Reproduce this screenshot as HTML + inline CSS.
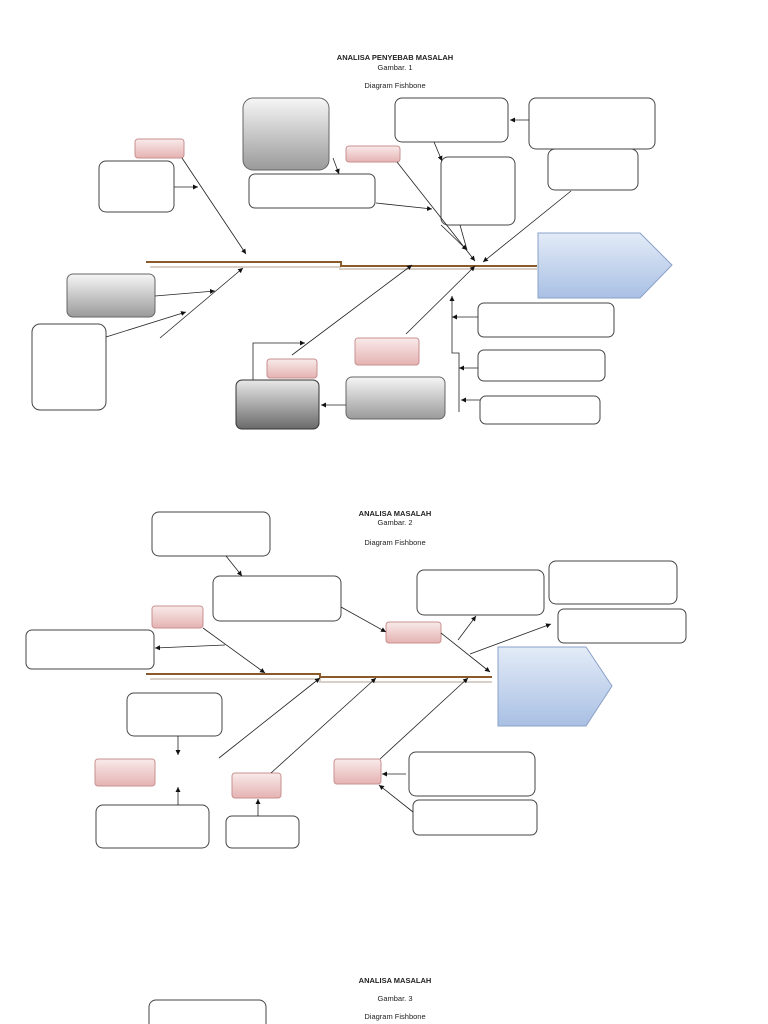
<!DOCTYPE html>
<html><head><meta charset="utf-8"><style>
html,body{margin:0;padding:0;background:#fff;width:768px;height:1024px;overflow:hidden}
svg{display:block}
text{font-family:"Liberation Sans",sans-serif;font-size:7.5px;fill:#222;text-anchor:middle}
</style></head><body>
<svg width="768" height="1024" viewBox="0 0 768 1024" xmlns="http://www.w3.org/2000/svg">
<defs>
<linearGradient id="g1" x1="0" y1="0" x2="0" y2="1"><stop offset="0" stop-color="#f6f6f6"/><stop offset="1" stop-color="#9a9a9a"/></linearGradient>
<linearGradient id="g2" x1="0" y1="0" x2="0" y2="1"><stop offset="0" stop-color="#e8e8e8"/><stop offset="1" stop-color="#6a6a6a"/></linearGradient>
<linearGradient id="pk" x1="0" y1="0" x2="0" y2="1"><stop offset="0" stop-color="#f9eaea"/><stop offset="1" stop-color="#e5b2b2"/></linearGradient>
<linearGradient id="bl" x1="0" y1="0" x2="0" y2="1"><stop offset="0" stop-color="#e3ebf7"/><stop offset="1" stop-color="#a9c0e4"/></linearGradient>
<marker id="a" markerWidth="6" markerHeight="6" refX="5" refY="3" orient="auto" markerUnits="userSpaceOnUse"><path d="M0,0.5 L5,3 L0,5.5z" fill="#111"/></marker>
</defs>

<text x="395" y="60" font-weight="bold">ANALISA PENYEBAB MASALAH</text>
<text x="395" y="70">Gambar. 1</text>
<text x="395" y="88">Diagram Fishbone</text>

<g fill="#fff" stroke="#444" stroke-width="1">
<rect x="99" y="161" width="75" height="51" rx="7"/>
<rect x="395" y="98" width="113" height="44" rx="7"/>
<rect x="529" y="98" width="126" height="51" rx="7"/>
<rect x="441" y="157" width="74" height="68" rx="7"/>
<rect x="548" y="149" width="90" height="41" rx="7"/>
<rect x="249" y="174" width="126" height="34" rx="6"/>
<rect x="478" y="303" width="136" height="34" rx="6"/>
<rect x="478" y="350" width="127" height="31" rx="6"/>
<rect x="480" y="396" width="120" height="28" rx="6"/>
<rect x="32" y="324" width="74" height="86" rx="8"/>
</g>
<g stroke="#666" stroke-width="1">
<rect x="243" y="98" width="86" height="72" rx="10" fill="url(#g1)"/>
<rect x="67" y="274" width="88" height="43" rx="6" fill="url(#g1)"/>
<rect x="236" y="380" width="83" height="49" rx="6" fill="url(#g2)" stroke="#333"/>
<rect x="346" y="377" width="99" height="42" rx="6" fill="url(#g1)"/>
</g>
<g fill="url(#pk)" stroke="#c89090" stroke-width="1">
<rect x="135" y="139" width="49" height="19" rx="3"/>
<rect x="346" y="146" width="54" height="16" rx="3"/>
<rect x="267" y="359" width="50" height="19" rx="3"/>
<rect x="355" y="338" width="64" height="27" rx="3"/>
</g>
<path d="M538,233 L640,233 L672,265 L640,298 L538,298Z" fill="url(#bl)" stroke="#8aa0c8"/>
<path d="M150,267 L340,267 L340,269 L537,269" fill="none" stroke="#d8d0c8" stroke-width="2"/>
<path d="M146,262 L341,262 L341,266 L537,266" fill="none" stroke="#8a5a2a" stroke-width="2"/>

<g stroke="#222" stroke-width="0.8" fill="none" marker-end="url(#a)">
<line x1="182" y1="158" x2="246" y2="254"/>
<line x1="174" y1="187" x2="198" y2="187"/>
<line x1="160" y1="338" x2="243" y2="268"/>
<line x1="155" y1="296" x2="215" y2="291"/>
<line x1="106" y1="337" x2="186" y2="312"/>
<line x1="292" y1="355" x2="412" y2="265"/>
<polyline points="253,380 253,343 305,343"/>
<line x1="406" y1="334" x2="475" y2="266"/>
<line x1="571" y1="191" x2="483" y2="262"/>
<line x1="397" y1="162" x2="475" y2="261"/>
<line x1="434" y1="142" x2="442" y2="161"/>
<line x1="529" y1="120" x2="510" y2="120"/>
<line x1="376" y1="203" x2="432" y2="209"/>
<line x1="333" y1="158" x2="339" y2="174"/>
<line x1="441" y1="225" x2="467" y2="250"/>
<line x1="346" y1="405" x2="321" y2="405"/>
<line x1="478" y1="317" x2="452" y2="317"/>
<line x1="478" y1="368" x2="459" y2="368"/>
<line x1="480" y1="400" x2="461" y2="400"/>
<polyline points="459,412 459,353 452,353 452,298 452,296"/>
</g>
<line x1="452" y1="298" x2="452" y2="296" stroke="#222"/>
<line x1="460" y1="225" x2="467" y2="250" stroke="#222" stroke-width="0.8"/>

<!-- Diagram 2 -->
<text x="395" y="516" font-weight="bold">ANALISA  MASALAH</text>
<text x="395" y="525">Gambar. 2</text>
<text x="395" y="545">Diagram Fishbone</text>
<g fill="#fff" stroke="#444" stroke-width="1">
<rect x="152" y="512" width="118" height="44" rx="7"/>
<rect x="213" y="576" width="128" height="45" rx="7"/>
<rect x="417" y="570" width="127" height="45" rx="7"/>
<rect x="549" y="561" width="128" height="43" rx="7"/>
<rect x="558" y="609" width="128" height="34" rx="6"/>
<rect x="26" y="630" width="128" height="39" rx="6"/>
<rect x="127" y="693" width="95" height="43" rx="7"/>
<rect x="96" y="805" width="113" height="43" rx="7"/>
<rect x="226" y="816" width="73" height="32" rx="6"/>
<rect x="409" y="752" width="126" height="44" rx="7"/>
<rect x="413" y="800" width="124" height="35" rx="6"/>
</g>
<g fill="url(#pk)" stroke="#c89090" stroke-width="1">
<rect x="152" y="606" width="51" height="22" rx="3"/>
<rect x="386" y="622" width="55" height="21" rx="3"/>
<rect x="95" y="759" width="60" height="27" rx="3"/>
<rect x="232" y="773" width="49" height="25" rx="3"/>
<rect x="334" y="759" width="47" height="25" rx="3"/>
</g>
<path d="M498,647 L586,647 L612,686 L586,726 L498,726Z" fill="url(#bl)" stroke="#8aa0c8"/>
<path d="M150,679 L320,679 L320,682 L492,682" fill="none" stroke="#d8d0c8" stroke-width="2"/>
<path d="M146,674 L320,674 L320,677 L492,677" fill="none" stroke="#8a5a2a" stroke-width="2"/>
<g stroke="#222" stroke-width="0.8" fill="none" marker-end="url(#a)">
<line x1="226" y1="556" x2="242" y2="576"/>
<line x1="203" y1="628" x2="265" y2="673"/>
<line x1="225" y1="645" x2="155" y2="648"/>
<line x1="341" y1="607" x2="386" y2="632"/>
<line x1="441" y1="633" x2="490" y2="672"/>
<line x1="458" y1="640" x2="476" y2="616"/>
<line x1="470" y1="654" x2="551" y2="624"/>
<line x1="219" y1="758" x2="320" y2="678"/>
<line x1="271" y1="773" x2="376" y2="678"/>
<line x1="380" y1="759" x2="468" y2="678"/>
<line x1="178" y1="736" x2="178" y2="755"/>
<line x1="178" y1="805" x2="178" y2="787"/>
<line x1="258" y1="816" x2="258" y2="799"/>
<line x1="406" y1="774" x2="382" y2="774"/>
<line x1="413" y1="812" x2="379" y2="785"/>
</g>

<!-- Diagram 3 -->
<text x="395" y="983" font-weight="bold">ANALISA MASALAH</text>
<text x="395" y="1001">Gambar. 3</text>
<text x="395" y="1019">Diagram Fishbone</text>
<rect x="149" y="1000" width="117" height="40" rx="7" fill="#fff" stroke="#444"/>
</svg>
</body></html>
